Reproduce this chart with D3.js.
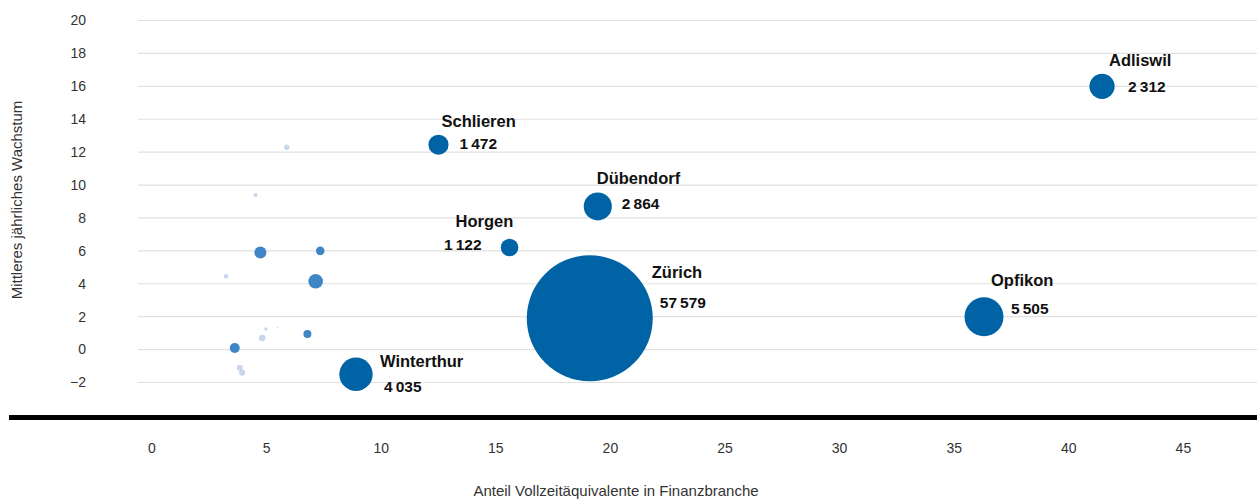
<!DOCTYPE html>
<html><head><meta charset="utf-8">
<script src="https://cdn.jsdelivr.net/npm/d3@7"></script>
<style>
body{margin:0;background:#fff;}
text{font-family:"Liberation Sans",Arial,Helvetica,sans-serif;}
</style></head><body>
<svg id="c" width="1257" height="499"></svg>
<script>
// Data
const names   = ["Zürich","Opfikon","Winterthur","Dübendorf","Adliswil","Schlieren","Horgen",
                 "g1","g2","g3","g4","g5","g6","g7","g8","g9","g10","g11","g12","g13"];
const share   = [19.1,36.3,8.9,19.45,41.45,12.5,15.6,
                 5.88,4.52,4.73,7.34,3.23,7.14,4.97,5.48,4.81,6.78,3.61,3.83,3.93];
const growth  = [1.9,2.0,-1.5,8.7,16.0,12.45,6.2,
                 12.3,9.4,5.9,6.0,4.45,4.15,1.25,1.35,0.7,0.95,0.1,-1.1,-1.4];
const jobs    = [57579,5505,4035,2864,2312,1472,1122,
                 106,58,522,268,77,773,42,7,158,232,363,131,131];
const group   = [2,2,2,2,2,2,2, 0,0,1,1,0,1,0,0,0,1,1,0,0]; // 2 = labelled, 1 = medium, 0 = light
const xTicks  = [0,5,10,15,20,25,30,35,40,45];
const yTicks  = [-2,0,2,4,6,8,10,12,14,16,18,20];
const xTitle  = "Anteil Vollzeitäquivalente in Finanzbranche";
const yTitle  = "Mittleres jährliches Wachstum";

const colors = ["#c8d7ee","#3f86c6","#0063a6"];
// label offsets [nameDx,nameDy,numDx,numDy,numAnchor]
const labelPos = {
  "Zürich":[62,-46,70,-16,"start"],
  "Opfikon":[7,-36,27,-8,"start"],
  "Winterthur":[24,-13,28,12,"start"],
  "Dübendorf":[-1,-28,24,-3,"start"],
  "Adliswil":[7,-26,26,0,"start"],
  "Schlieren":[3,-24,21,-1,"start"],
  "Horgen":[-54,-26,-28,-3,"end"]
};

const svg = d3.select("#c");
const x = d3.scaleLinear().domain([0,45]).range([152,1183.4]);
const y = d3.scaleLinear().domain([-2,20]).range([382.5,20.5]);
const r = d3.scaleSqrt().domain([0,57579]).range([0,63]);

// gridlines
svg.append("g").selectAll("line").data(yTicks).join("line")
  .attr("x1",138).attr("x2",1257)
  .attr("y1",d=>y(d)).attr("y2",d=>y(d))
  .attr("stroke","#e1e1e1").attr("stroke-width",1.2);

// y tick labels
svg.append("g").selectAll("text").data(yTicks).join("text")
  .attr("x",86).attr("y",d=>y(d)).attr("dy","0.35em")
  .attr("text-anchor","end").attr("font-size",14).attr("fill","#333")
  .text(d=>d<0?"\u2212"+Math.abs(d):d);

// x tick labels
svg.append("g").selectAll("text").data(xTicks).join("text")
  .attr("x",d=>x(d)).attr("y",448).attr("dy","0.35em")
  .attr("text-anchor","middle").attr("font-size",14).attr("fill","#333")
  .text(d=>d);

// baseline bar
svg.append("rect").attr("x",9).attr("y",415).attr("width",1248).attr("height",5).attr("fill","#000");

// titles
svg.append("text").attr("x",616).attr("y",491).attr("dy","0.35em")
  .attr("text-anchor","middle").attr("font-size",15).attr("fill","#333").text(xTitle);
svg.append("text").attr("transform","translate(17,200) rotate(-90)").attr("dy","0.35em")
  .attr("text-anchor","middle").attr("font-size",15).attr("fill","#333").text(yTitle);

// bubbles
const data = names.map((n,i)=>({name:n,x:share[i],y:growth[i],v:jobs[i],g:group[i]}));
data.sort((a,b)=>a.g-b.g);
svg.append("g").selectAll("circle").data(data).join("circle")
  .attr("cx",d=>x(d.x)).attr("cy",d=>y(d.y)).attr("r",d=>r(d.v))
  .attr("fill",d=>colors[d.g]);

// labels
const fmt = v => d3.format(",")(v).replace(/,/g,"\u2009");
const lab = svg.append("g");
data.filter(d=>d.g===2).forEach(d=>{
  const p = labelPos[d.name];
  const cx = x(d.x), cy = y(d.y);
  lab.append("text").attr("x",cx+p[0]).attr("y",cy+p[1]).attr("dy","0.35em")
    .attr("font-size",16.5).attr("font-weight","bold").attr("fill","#111").text(d.name);
  lab.append("text").attr("x",cx+p[2]).attr("y",cy+p[3]).attr("dy","0.35em")
    .attr("text-anchor",p[4])
    .attr("font-size",15.5).attr("font-weight","bold").attr("fill","#111").text(fmt(d.v));
});
</script></body></html>
